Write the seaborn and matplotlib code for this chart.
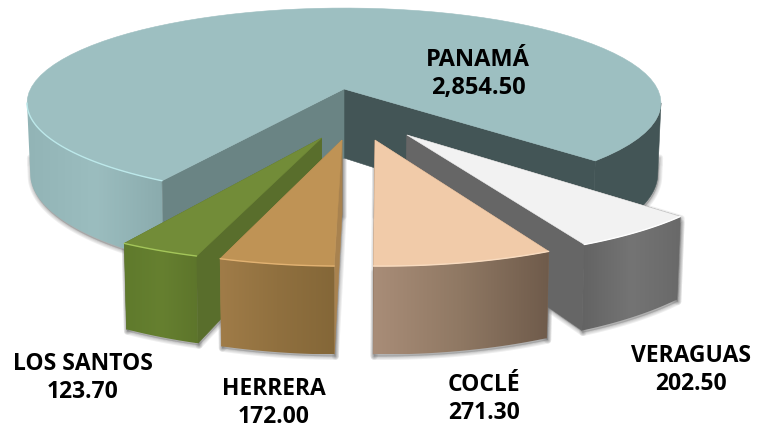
import matplotlib
matplotlib.use('Agg')
import matplotlib.pyplot as plt
import numpy as np
import pandas as pd
import seaborn as sns
from matplotlib.patches import Polygon

# provinces, clockwise starting after the right cut of Panama
names = ['VERAGUAS', 'COCLÉ', 'HERRERA', 'LOS SANTOS', 'PANAMÁ']
values = [202.50, 271.30, 172.00, 123.70, 2854.50]

# explosion of each slice on the pie plane, and how it is stacked
explode_x = [0.187, 0.0915, -0.006, -0.0665, 0.0]
explode_y = [0.461, 0.508, 0.508, 0.49, 0.0]
radius = [0.98, 0.98, 0.98, 0.98, 1.0]
draw_order = [4, 0, 1, 3, 2]

top_colors = ['#f2f2f2', '#f1cba9', '#bf9355', '#728c38', '#9dbfc1']
cut_colors = ['#666666', '#7c6552', '#a8824f', '#596e2c', '#6a8484']
rim_colors = [['#636363', '#747474', '#696969'],
              ['#a98d78', '#8f7863', '#6f5b4b'],
              ['#a07c48', '#90703f', '#846738'],
              ['#5f7a2c', '#668030', '#5d752b'],
              ['#92b4b6', '#9bbdbf', '#8aabad']]
shine_colors = ['#ffffff', '#f9dcc0', '#e2b272', '#a4c65a', '#bce8ea']

# where the labels go
label_x = [691, 484, 274, 83, 478]
label_y = [370, 399, 403, 378, 74]
label_size = [16.5, 16.5, 16.5, 16.5, 17.0]

start_angle = 44.0
apex_x, apex_y = 344, 89
scale_x, scale_y, persp, depth = 313.5, 92.9, 0.1474, 69

df = pd.DataFrame({'name': names, 'value': values})
df['sweep'] = df['value'] / df['value'].sum() * 360
df['end'] = start_angle + df['sweep'].cumsum()
df['start'] = df['end'] - df['sweep']

sns.set_theme(style='white')
plt.rcParams['font.family'] = ['Open Sans', 'DejaVu Sans']

fig, ax = plt.subplots(figsize=(7.57, 4.32), dpi=100)
fig.subplots_adjust(0, 0, 1, 1)
layer = [10]


def project(x, v, z=0.0):
    w = 1 / (1 - persp * v)
    return apex_x + scale_x * x * w * (1 - 0.01 * z), apex_y + scale_y * v * w + depth * w * z


def next_z():
    layer[0] += 1
    return layer[0]


def flat(points, color):
    ax.add_patch(Polygon(points, closed=True, fc=color, ec=color, lw=0.4, zorder=next_z()))


def gradient(points, colors):
    z = next_z()
    clip = Polygon(points, closed=True, fc='none', ec='none', zorder=z)
    ax.add_patch(clip)
    cmap = sns.blend_palette(colors, as_cmap=True)
    xmin, xmax = points[:, 0].min(), points[:, 0].max()
    ymin, ymax = points[:, 1].min(), points[:, 1].max()
    im = ax.imshow(np.linspace(0, 1, 256)[None, :], cmap=cmap, aspect='auto',
                   extent=(xmin, xmax, ymax, ymin), zorder=z, interpolation='nearest')
    im.set_clip_path(clip)


def arc(i, a0, a1, z=0.0):
    t = np.radians(np.linspace(a0, a1, 80))
    x = explode_x[i] + radius[i] * np.cos(t)
    v = explode_y[i] + radius[i] * np.sin(t)
    return np.column_stack(project(x, v, z))


def shadow(points):
    for lw in [5, 3.5, 2, 1]:
        ax.add_patch(Polygon(points + [1, 2], closed=True, fc='#777777', ec='#777777', lw=lw,
                             alpha=0.12, joinstyle='round', zorder=2))


def wall(i, a0, a1, z0=0.0):
    return np.vstack([arc(i, a0, a1, z0), arc(i, a0, a1, 1.0)[::-1]])


def cut(i, angle):
    center = np.array(project(explode_x[i], explode_y[i]))
    bottom = np.array(project(explode_x[i], explode_y[i], 1.0))
    return np.vstack([center, arc(i, angle, angle)[0], arc(i, angle, angle, 1.0)[0], bottom])


# the outline of the rim turns where sin(angle) == persp
turn = np.degrees(np.arcsin(persp))

# soft shadows under the walls
for i, row in df.iterrows():
    if i == 4:
        shadow(wall(i, row['start'], 180 - turn, 0.75))
        shadow(wall(i, 360 + turn, row['end'], 0.75))
    else:
        shadow(wall(i, row['start'], row['end'], 0.05))
        shadow(cut(i, row['start']))
        shadow(cut(i, row['end']))

for i in draw_order:
    row = df.loc[i]
    a0, a1 = row['start'], row['end']
    center = np.array(project(explode_x[i], explode_y[i]))
    if i == 4:
        # the big slice wraps behind, only its two ends of rim show
        flat(wall(i, 360 + turn, a1), '#435556')
        gradient(wall(i, a0, 180 - turn), rim_colors[i])
        flat(cut(i, a1), '#435556')
        flat(cut(i, a0), cut_colors[i])
    else:
        flat(cut(i, a0), cut_colors[i])
        flat(cut(i, a1), cut_colors[i])
        gradient(wall(i, a0, a1), rim_colors[i])
    flat(np.vstack([center, arc(i, a0, a1)]), top_colors[i])
    if i == 4:
        rim = arc(i, a0, 180 - turn)
    else:
        rim = arc(i, a0, a1)
    ax.plot(rim[:, 0], rim[:, 1], color=shine_colors[i], lw=1.0, zorder=next_z())

for i, row in df.iterrows():
    ax.text(label_x[i], label_y[i], f"{row['name']}\n{row['value']:,.2f}", ha='center', va='center',
            fontsize=label_size[i], fontweight='bold', color='black', linespacing=1.2, zorder=500)

ax.set_xlim(0, 757)
ax.set_ylim(432, 0)
ax.axis('off')
fig.savefig('out.png', dpi=100, facecolor='white')
